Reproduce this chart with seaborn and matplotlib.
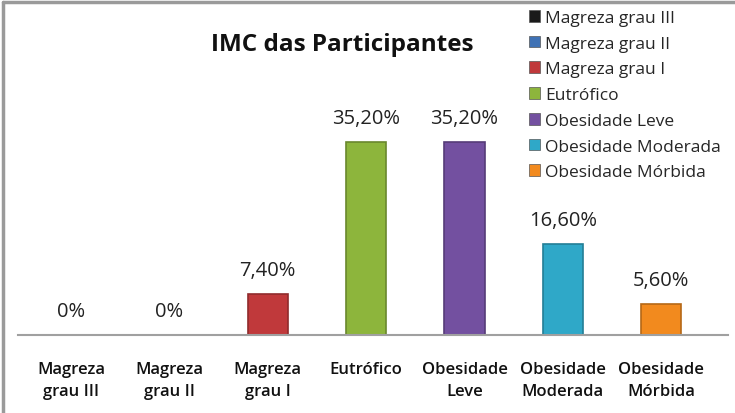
import matplotlib
matplotlib.use("Agg")
import matplotlib.pyplot as plt
import seaborn as sns
import pandas as pd
from matplotlib.patches import Patch
from matplotlib.lines import Line2D
import matplotlib.colors as mcolors

categories = ["Magreza grau III", "Magreza grau II", "Magreza grau I", "Eutrófico",
              "Obesidade Leve", "Obesidade Moderada", "Obesidade Mórbida"]
tick_labels = ["Magreza\ngrau III", "Magreza\ngrau II", "Magreza\ngrau I", "Eutrófico",
               "Obesidade\nLeve", "Obesidade\nModerada", "Obesidade\nMórbida"]
values = [0.0, 0.0, 7.4, 35.2, 35.2, 16.6, 5.6]
value_labels = ["0%", "0%", "7,40%", "35,20%", "35,20%", "16,60%", "5,60%"]
colors = ["#1a1a1a", "#3f72b5", "#c0393b", "#8db53c", "#7350a0", "#2fa8c8", "#f28a1e"]

sns.set_style("white")
plt.rcParams['font.family'] = ['Open Sans', 'DejaVu Sans']

df = pd.DataFrame({"cat": categories, "val": values})

fig = plt.figure(figsize=(7.35, 4.14), dpi=100)
ax = fig.add_axes([18/735, (414-336)/414, 710/735, (336-60)/414])

sns.barplot(data=df, x="cat", y="val", hue="cat", palette=colors, dodge=False,
            width=0.41, legend=False, ax=ax, saturation=1, linewidth=1.2)

for patch, c in zip(ax.patches, colors):
    r, g, b = mcolors.to_rgb(c)
    patch.set_edgecolor((r * 0.75, g * 0.75, b * 0.75))

ax.set_xlim(-0.54, 6.68)
ax.set_ylim(0, 50.4)
for s in ["top", "right", "left"]:
    ax.spines[s].set_visible(False)
ax.spines["bottom"].set_color("#a0a0a0")
ax.spines["bottom"].set_linewidth(1.5)
ax.set_yticks([])
ax.set_xlabel("")
ax.set_ylabel("")
ax.set_xticks(range(len(categories)))
ax.set_xticklabels(tick_labels, fontsize=12, fontweight="semibold", color="#111111",
                   linespacing=1.45)
ax.tick_params(axis="x", length=0, pad=19)

for i, (v, lab) in enumerate(zip(values, value_labels)):
    ax.text(i, v + 2.6, lab, ha="center", va="bottom", fontsize=14.5, color="#222222")

fig.text(342/735, 1 - 45/414, "IMC das Participantes", ha="center", va="center",
         fontsize=17.5, fontweight="bold", color="#111111")

handles = [Patch(facecolor=c, edgecolor="#555555", linewidth=0.5) for c in colors]
leg = fig.legend(handles, categories, loc="upper left", bbox_to_anchor=(522/735, 1 - 4/414),
                 frameon=False, fontsize=12.5, handlelength=0.65, handleheight=0.65,
                 handletextpad=0.3, labelspacing=0.56, borderaxespad=0)

fig.add_artist(Line2D([3/735, 1], [1 - 3/414, 1 - 3/414], color="#9a9a9a", linewidth=2.5,
                      transform=fig.transFigure))
fig.add_artist(Line2D([3/735, 3/735], [0, 1 - 3/414], color="#9a9a9a", linewidth=2.5,
                      transform=fig.transFigure))

fig.savefig("out.png", dpi=100)
